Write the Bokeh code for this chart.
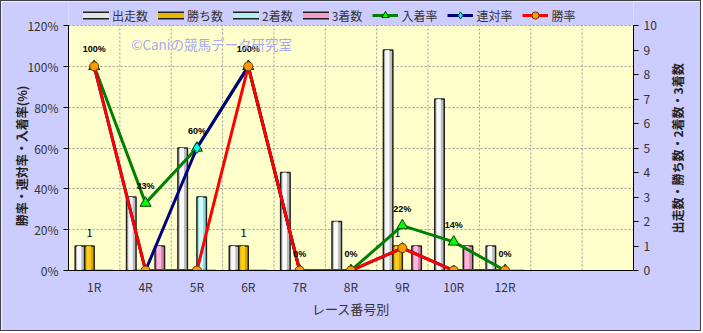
import math
import numpy as np
from bokeh.plotting import figure
from bokeh.models import (Range1d, LinearAxis, FixedTicker, PrintfTickFormatter,
                          Legend, LegendItem, ColumnDataSource, BoxAnnotation)
from bokeh.transform import dodge
from bokeh.core.properties import value
from bokeh.embed import file_html
from bokeh.resources import INLINE

# ---- data ----
races = ["1R", "4R", "5R", "6R", "7R", "8R", "9R", "10R", "12R"]
n_slots = 11
starters = [1, 3, 5, 1, 4, 2, 9, 7, 1]
wins = [1, 0, 0, 1, 0, 0, 1, 0, 0]
seconds = [0, 0, 3, 0, 0, 0, 0, 0, 0]
thirds = [0, 1, 0, 0, 0, 0, 1, 1, 0]
place_rate = [100, 33, 60, 100, 0, 0, 22, 14, 0]
rentai_rate = [100, 0, 60, 100, 0, 0, 11, 0, 0]
win_rate = [100, 0, 0, 100, 0, 0, 11, 0, 0]
pct_labels = ["100%", "33%", "60%", "100%", "0%", "0%", "22%", "14%", "0%"]
pct_ticks = [0, 20, 40, 60, 80, 100, 120]
cnt_ticks = list(range(0, 11))
left_title = "勝率・連対率・入着率(%)"
right_title = "出走数・勝ち数・2着数・3着数"
x_title = "レース番号別"
watermark = "©Caniの競馬データ研究室"

FONT = "Noto Sans CJK JP"

# layout (pixels)
W, H = 701, 331
B_LEFT, B_RIGHT, B_BOTTOM = 67, 69, 62
PLOT_H = 245                     # height of the 0..120% area
FRAME_H = H - B_BOTTOM           # frame reaches the top edge (legend lives there)
pct_max, cnt_max = 120, 10
y_top = pct_max * FRAME_H / PLOT_H
cnt_top = cnt_max * FRAME_H / PLOT_H

xc = np.arange(len(races)) + 0.5

p = figure(width=W, height=H, output_backend="svg", toolbar_location=None,
           x_range=Range1d(0, n_slots), y_range=Range1d(0, y_top),
           min_border_left=B_LEFT, min_border_right=B_RIGHT, min_border_top=0,
           min_border_bottom=B_BOTTOM)
p.styles = {"border": "1px solid #404040"}
p.background_fill_color = "#CCCCFF"
p.border_fill_color = "#CCCCFF"
p.outline_line_color = None
p.extra_y_ranges = {"cnt": Range1d(0, cnt_top)}

# yellow plot area
p.add_layout(BoxAnnotation(left=0, right=n_slots, bottom=0, top=pct_max,
                           fill_color="#FFFFCC", fill_alpha=1, line_color=None,
                           level="image"))

# grids
p.ygrid.ticker = FixedTicker(ticks=pct_ticks[1:])
p.ygrid.grid_line_color = "#9a9a9a"
p.ygrid.grid_line_dash = "2 2"
p.xgrid.visible = False
gx = list(range(1, n_slots))
p.segment(x0=gx, y0=[0] * len(gx), x1=gx, y1=[pct_max] * len(gx),
          line_color="#9a9a9a", line_dash="2 2", line_width=1)

# x axis
xa = p.xaxis[0]
xa.ticker = FixedTicker(ticks=list(xc))
xa.major_label_overrides = {float(x): r for x, r in zip(xc, races)}
xa.major_tick_line_color = None
xa.major_tick_out = 0
xa.major_tick_in = 0
xa.minor_tick_line_color = None
xa.axis_line_color = "black"
xa.major_label_text_font = FONT
xa.major_label_text_font_size = "12px"
xa.major_label_text_color = "#333333"
xa.major_label_standoff = 7
xa.axis_label = x_title
xa.axis_label_text_font = FONT
xa.axis_label_text_font_size = "13px"
xa.axis_label_text_font_style = "normal"
xa.axis_label_text_color = "#333333"
xa.axis_label_standoff = 1

# left axis
ya = p.yaxis[0]
ya.bounds = (0, pct_max)
ya.ticker = FixedTicker(ticks=pct_ticks)
ya.formatter = PrintfTickFormatter(format="%d%%")
ya.major_tick_out = 5
ya.major_tick_in = 0
ya.minor_tick_line_color = None
ya.axis_line_color = "black"
ya.major_tick_line_color = "black"
ya.major_label_text_font = FONT
ya.major_label_text_font_size = "12px"
ya.major_label_text_color = "#333333"
ya.major_label_standoff = 5

# left title as a rotated label of a bare axis
lt = LinearAxis(ticker=FixedTicker(ticks=[90.5]),
                major_label_overrides={90.5: left_title})
lt.major_label_orientation = math.pi / 2
lt.axis_line_color = None
lt.major_tick_line_color = None
lt.major_tick_out = 0
lt.major_tick_in = 0
lt.minor_tick_line_color = None
lt.major_label_text_font = FONT
lt.major_label_text_font_size = "12px"
lt.major_label_text_font_style = "bold"
lt.major_label_text_color = "#222222"
lt.major_label_standoff = 3
p.add_layout(lt, "left")

# right axis
ra = LinearAxis(y_range_name="cnt", ticker=FixedTicker(ticks=cnt_ticks),
                bounds=(0, cnt_max))
ra.major_tick_out = 5
ra.major_tick_in = 0
ra.minor_tick_line_color = None
ra.axis_line_color = "black"
ra.major_tick_line_color = "black"
ra.major_label_text_font = FONT
ra.major_label_text_font_size = "12px"
ra.major_label_text_color = "#333333"
ra.major_label_standoff = 5
p.add_layout(ra, "right")

# right title
rt = LinearAxis(y_range_name="cnt", ticker=FixedTicker(ticks=[1.51]),
                major_label_overrides={1.51: right_title})
rt.major_label_orientation = math.pi / 2
rt.axis_line_color = None
rt.major_tick_line_color = None
rt.major_tick_out = 0
rt.major_tick_in = 0
rt.minor_tick_line_color = None
rt.major_label_text_font = FONT
rt.major_label_text_font_size = "12px"
rt.major_label_text_font_style = "bold"
rt.major_label_text_color = "#222222"
rt.major_label_standoff = 18
p.add_layout(rt, "right")

# ---- bars ----
bw = 0.185
series = [
    ("出走数", "starters", "#bdbdbd", "#ffffff", "#e4e4e4", -1.5),
    ("勝ち数", "wins", "#d9a800", "#ffd21a", "#e6b800", -0.5),
    ("2着数", "seconds", "#8fdede", "#d8ffff", "#b0f0f0", 0.5),
    ("3着数", "thirds", "#dd80b0", "#ffc0e0", "#f0a0c8", 1.5),
]
src = ColumnDataSource(dict(x=xc, starters=starters, wins=wins, seconds=seconds,
                            thirds=thirds, place=place_rate, rentai=rentai_rate,
                            win=win_rate, plab=pct_labels,
                            wlab=[str(w) if w > 0 else "" for w in wins]))
bar_legend = []
for name, col, base, hi, leg, k in series:
    p.vbar(x=dodge("x", k * bw, range=p.x_range), top=col, width=bw, bottom=0,
           source=src, y_range_name="cnt", fill_color=base,
           line_color="#202020", line_width=1.5)
    p.vbar(x=dodge("x", k * bw - bw * 0.08, range=p.x_range), top=col,
           width=bw * 0.45, bottom=0, source=src, y_range_name="cnt",
           fill_color=hi, fill_alpha=0.9, line_color=None)
    # legend swatches (off-range points, only used for the legend icon)
    l1 = p.line(x=[-3, -2], y=[-50, -50], line_color="#202020", line_width=8,
                line_cap="round")
    l2 = p.line(x=[-3, -2], y=[-50, -50], line_color=leg, line_width=5,
                line_cap="round")
    bar_legend.append(LegendItem(label=name, renderers=[l1, l2]))

# count labels above win bars
p.text(x=dodge("x", -0.5 * bw, range=p.x_range), y="wins", text="wlab", source=src,
       y_range_name="cnt", text_align="center", text_baseline="middle",
       y_offset=-13, text_font=value(FONT), text_font_size="11px",
       text_color="black")

# ---- lines ----
g_line = p.line("x", "place", source=src, line_color="#008000", line_width=3)
g_mark = p.scatter("x", "place", source=src, marker="triangle", size=11,
                   fill_color="#00ff00", line_color="#004000", line_width=1)
n_line = p.line("x", "rentai", source=src, line_color="#000080", line_width=3)
n_mark = p.scatter("x", "rentai", source=src, marker="diamond", size=11,
                   fill_color="#00ffff", line_color="#004040", line_width=1)
r_line = p.line("x", "win", source=src, line_color="#ff0000", line_width=3)
r_mark = p.scatter("x", "win", source=src, marker="circle", size=9,
                   fill_color="#ff9900", line_color="#663300", line_width=1)

# percentage labels
p.text(x="x", y="place", text="plab", source=src, text_align="center",
       text_baseline="middle", y_offset=-17, text_font=value("Liberation Sans"),
       text_font_size="9px", text_font_style="bold", text_color="black")

# watermark
p.text(x=[1.22], y=[111], text=[watermark], text_align="left",
       text_baseline="middle", text_font=value(FONT), text_font_size="13.5px",
       text_color="#a8a8f0")

items = bar_legend + [
    LegendItem(label="入着率", renderers=[g_line, g_mark]),
    LegendItem(label="連対率", renderers=[n_line, n_mark]),
    LegendItem(label="勝率", renderers=[r_line, r_mark]),
]
legend = Legend(items=items, orientation="horizontal", location=(15, 246),
                background_fill_alpha=0, border_line_color=None, padding=0,
                margin=0, spacing=10, label_standoff=3, glyph_width=26,
                glyph_height=18, label_height=14, label_text_font=FONT,
                label_text_font_size="12px", label_text_color="#333333")
p.add_layout(legend, "center")

open("out.html", "w").write(file_html(p, INLINE))
